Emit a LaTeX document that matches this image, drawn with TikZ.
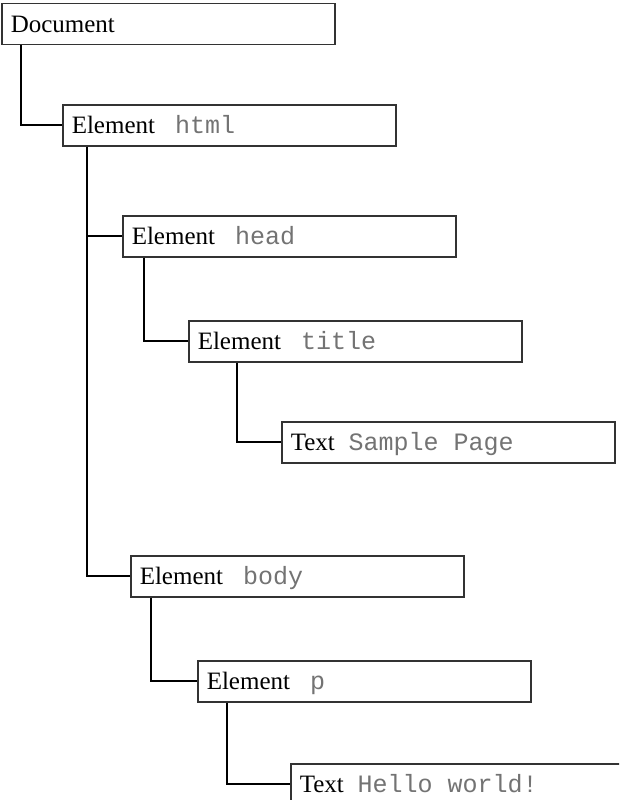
\documentclass[tikz,border=0pt]{standalone}
\usepackage{fontspec}
\setmainfont{Liberation Serif}
\setmonofont{Liberation Mono}
\newcommand\elem[1]{Element\hspace{0.8em}{\ttfamily\color{black!55}#1}}
\newcommand\txt[2]{Text\hspace{0.55em}{\ttfamily\color{black!55}#1\hspace{0.6em}#2}}
\begin{document}
\begin{tikzpicture}[x=1pt,y=-1pt,
    dom/.style={draw=black!80,line width=1.5pt,anchor=north west,
      minimum height=41pt,inner xsep=9pt,text width=315pt,align=left,
      text height=16.5pt,text depth=0pt,
      font=\fontsize{25pt}{30pt}\selectfont},
    link/.style={line width=2pt}]
  \useasboundingbox (0,0) rectangle (619,800);
  \clip (0,0) rectangle (619,800);
  \draw
    (1,3) node[dom] (doc){Document}
    (62,104) node[dom] (html){\elem{html}}
    (122,215) node[dom] (head){\elem{head}}
    (188,320) node[dom] (title){\elem{title}}
    (281,421) node[dom] (sample){\txt{Sample}{Page}}
    (130,555) node[dom] (body){\elem{body}}
    (197,660) node[dom] (p){\elem{p}}
    (290,763) node[dom] (hello){\txt{Hello}{world!}};
  \begin{scope}[link]
    \draw ([xshift=20pt]doc.south west) |- (html.west);
    \draw ([xshift=25pt]html.south west) |- (head.west);
    \draw ([xshift=25pt]html.south west) |- (body.west);
    \draw ([xshift=22pt]head.south west) |- (title.west);
    \draw ([xshift=49pt]title.south west) |- (sample.west);
    \draw ([xshift=21pt]body.south west) |- (p.west);
    \draw ([xshift=30pt]p.south west) |- (hello.west);
  \end{scope}
\end{tikzpicture}
\end{document}
